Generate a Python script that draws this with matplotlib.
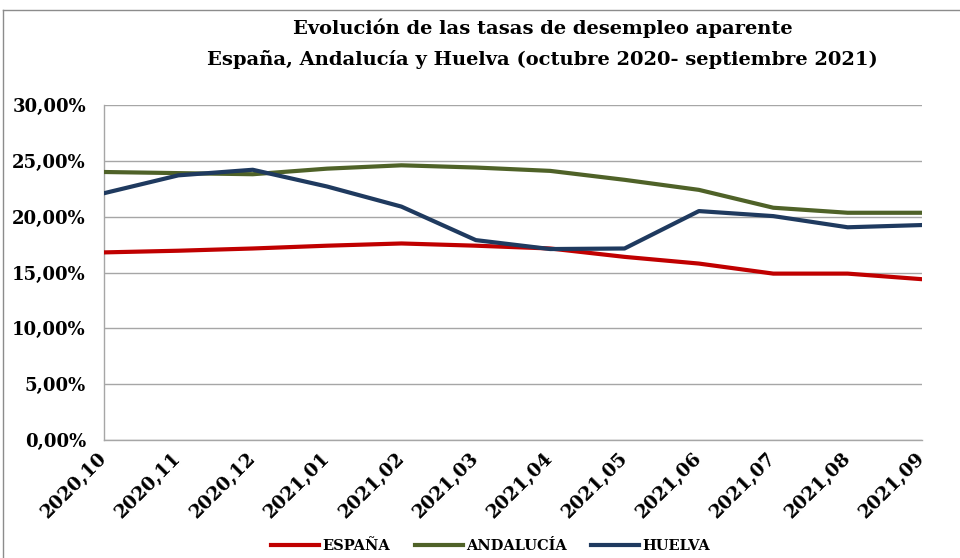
import matplotlib
matplotlib.use("Agg")
import matplotlib.pyplot as plt
from matplotlib.lines import Line2D
from matplotlib.ticker import FuncFormatter, MultipleLocator

months = ["2020,10", "2020,11", "2020,12", "2021,01", "2021,02", "2021,03",
          "2021,04", "2021,05", "2021,06", "2021,07", "2021,08", "2021,09"]
espana = [16.8, 16.95, 17.15, 17.4, 17.6, 17.4, 17.15, 16.4, 15.8, 14.9, 14.9, 14.4]
andalucia = [24.0, 23.9, 23.8, 24.3, 24.6, 24.4, 24.1, 23.3, 22.4, 20.8, 20.35, 20.35]
huelva = [22.1, 23.7, 24.2, 22.7, 20.9, 17.9, 17.1, 17.15, 20.5, 20.05, 19.05, 19.25]
series_names = ["ESPAÑA", "ANDALUCÍA", "HUELVA"]
colors = ["#C00000", "#4F6228", "#1F3A5F"]

FONT = "DejaVu Serif"

fig = plt.figure(figsize=(9.6, 5.58), dpi=100)
ax = fig.add_axes([104/960, 1-440/558, (922-104)/960, (440-105)/558])

x = list(range(len(months)))
for vals, c, n in zip([espana, andalucia, huelva], colors, series_names):
    ax.plot(x, vals, color=c, lw=3.0, label=n, solid_joinstyle="round", zorder=3)

ax.set_xlim(0, len(months) - 1)
ax.set_ylim(0, 30)
ax.yaxis.set_major_locator(MultipleLocator(5))
ax.yaxis.set_major_formatter(FuncFormatter(lambda v, p: f"{v:.2f}%".replace(".", ",")))
ax.grid(axis="y", color="#A6A6A6", lw=1.0, zorder=0)
ax.set_axisbelow(True)
for s in ["top", "right"]:
    ax.spines[s].set_visible(False)
for s in ["left", "bottom"]:
    ax.spines[s].set_color("#A6A6A6")
    ax.spines[s].set_linewidth(1.0)
ax.tick_params(axis="y", length=0, pad=13)
ax.tick_params(axis="x", length=0, pad=11)
ax.set_xticks(x)
ax.set_xticklabels(months, rotation=45, ha="right", va="center",
                   rotation_mode="anchor", fontsize=13.5, fontweight="bold",
                   family=FONT)
for lab in ax.get_yticklabels():
    lab.set_fontsize(13)
    lab.set_fontweight("bold")
    lab.set_family(FONT)

fig.text(0.565, 1-28/558, "Evolución de las tasas de desempleo aparente",
         ha="center", va="center", fontsize=14, fontweight="bold", family=FONT)
fig.text(0.565, 1-59/558, "España, Andalucía y Huelva (octubre 2020- septiembre 2021)",
         ha="center", va="center", fontsize=14, fontweight="bold", family=FONT)

leg = fig.legend(loc="center", bbox_to_anchor=(0.511, 1-546/558), ncol=3,
                 frameon=False, handlelength=3.3, handletextpad=0.2,
                 columnspacing=1.7,
                 prop={"family": FONT, "weight": "bold", "size": 10.5})

# outer chart border
fig.add_artist(Line2D([3/960, 1.0], [1-10/558, 1-10/558], color="#8C8C8C", lw=1.0))
fig.add_artist(Line2D([3/960, 3/960], [0, 1-10/558], color="#8C8C8C", lw=1.0))

fig.savefig("out.png", dpi=100)
